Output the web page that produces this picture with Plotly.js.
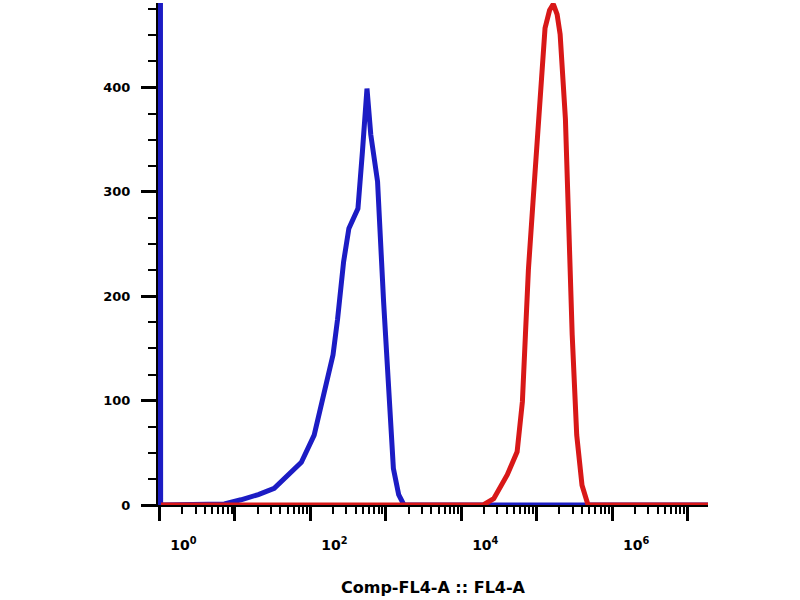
<!DOCTYPE html>
<html>
<head>
<meta charset="utf-8">
<script src="https://cdn.plot.ly/plotly-3.0.1.min.js"></script>
<style>html,body{margin:0;padding:0;background:#fff;}#chart{width:800px;height:600px;}</style>
</head>
<body>
<div id="chart"></div>
<script>
// Blue histogram (control): log10 of FL4-A and event count
const blueLogX = [-0.02, 0.00, 0.005, 0.01, 0.015, 0.86, 1.08, 1.31, 1.52, 1.70, 1.88, 2.05, 2.18, 2.30, 2.36, 2.44, 2.51, 2.63, 2.69, 2.75, 2.80, 2.89, 2.97, 3.04, 3.10, 3.17, 3.24, 7.30];
const blueCount = [0, 0, 1000, 1000, 0, 1, 5, 10, 16, 29, 41, 67, 106, 144, 178, 233, 265, 284, 339, 399, 355, 310, 195, 99, 35, 10, 0, 0];
// Red histogram (stained): log10 of FL4-A and event count
const redLogX = [0.02, 4.29, 4.43, 4.61, 4.74, 4.81, 4.85, 4.89, 4.95, 5.01, 5.05, 5.11, 5.17, 5.22, 5.27, 5.31, 5.38, 5.42, 5.47, 5.53, 5.60, 5.68, 7.30];
const redCount = [0, 0, 6, 29, 51, 99, 163, 226, 290, 355, 403, 457, 474, 480, 470, 451, 370, 259, 163, 67, 19, 0, 0];
// Axis ticks
const xTickVals = [1, 10, 100, 1000, 10000, 100000, 1000000, 10000000];
const xTickText = ['10<sup>0</sup>', '', '10<sup>2</sup>', '', '10<sup>4</sup>', '', '10<sup>6</sup>', ''];
const yTickVals = [0, 100, 200, 300, 400];
const yTickText = ['0', '100', '200', '300', '400'];
const xTitle = 'Comp-FL4-A :: FL4-A';

const toLin = a => a.map(v => Math.pow(10, v));

const traces = [
  {x: toLin(blueLogX), y: blueCount, type: 'scatter', mode: 'lines',
   line: {color: '#1c1cc4', width: 5}, hoverinfo: 'skip'},
  {x: toLin(redLogX), y: redCount, type: 'scatter', mode: 'lines',
   line: {color: '#d81818', width: 5}, hoverinfo: 'skip'}
];

const layout = {
  width: 800, height: 600,
  margin: {l: 158, r: 92, t: 3, b: 95},
  paper_bgcolor: '#fff', plot_bgcolor: '#fff',
  showlegend: false,
  xaxis: {
    type: 'log', range: [-0.02, 7.27],
    tickmode: 'array', tickvals: xTickVals, ticktext: xTickText,
    ticks: 'outside', ticklen: 14, tickwidth: 3, tickcolor: '#000',
    minor: {ticks: 'outside', dtick: 'D1', ticklen: 7, tickwidth: 2, tickcolor: '#000'},
    showgrid: false, zeroline: false,
    showline: true, linecolor: '#000', linewidth: 2,
    layer: 'below traces',
    tickfont: {family: 'DejaVu Sans', size: 14, color: '#000', weight: 'bold'},
    ticklabelshift: 24,
    ticklabelstandoff: 12,
    title: {text: xTitle, font: {family: 'DejaVu Sans', size: 16, color: '#000', weight: 'bold'}, standoff: 30}
  },
  yaxis: {
    range: [0, 481],
    tickmode: 'array', tickvals: yTickVals, ticktext: yTickText,
    ticks: 'outside', ticklen: 15, tickwidth: 3, tickcolor: '#000',
    minor: {ticks: 'outside', dtick: 25, ticklen: 8, tickwidth: 2, tickcolor: '#000'},
    showgrid: false, zeroline: false,
    showline: true, linecolor: '#000', linewidth: 2,
    layer: 'below traces',
    tickfont: {family: 'DejaVu Sans', size: 13, color: '#000', weight: 'bold'},
    ticklabelstandoff: 8
  }
};

Plotly.newPlot('chart', traces, layout, {displayModeBar: false, staticPlot: true});
</script>
</body>
</html>
